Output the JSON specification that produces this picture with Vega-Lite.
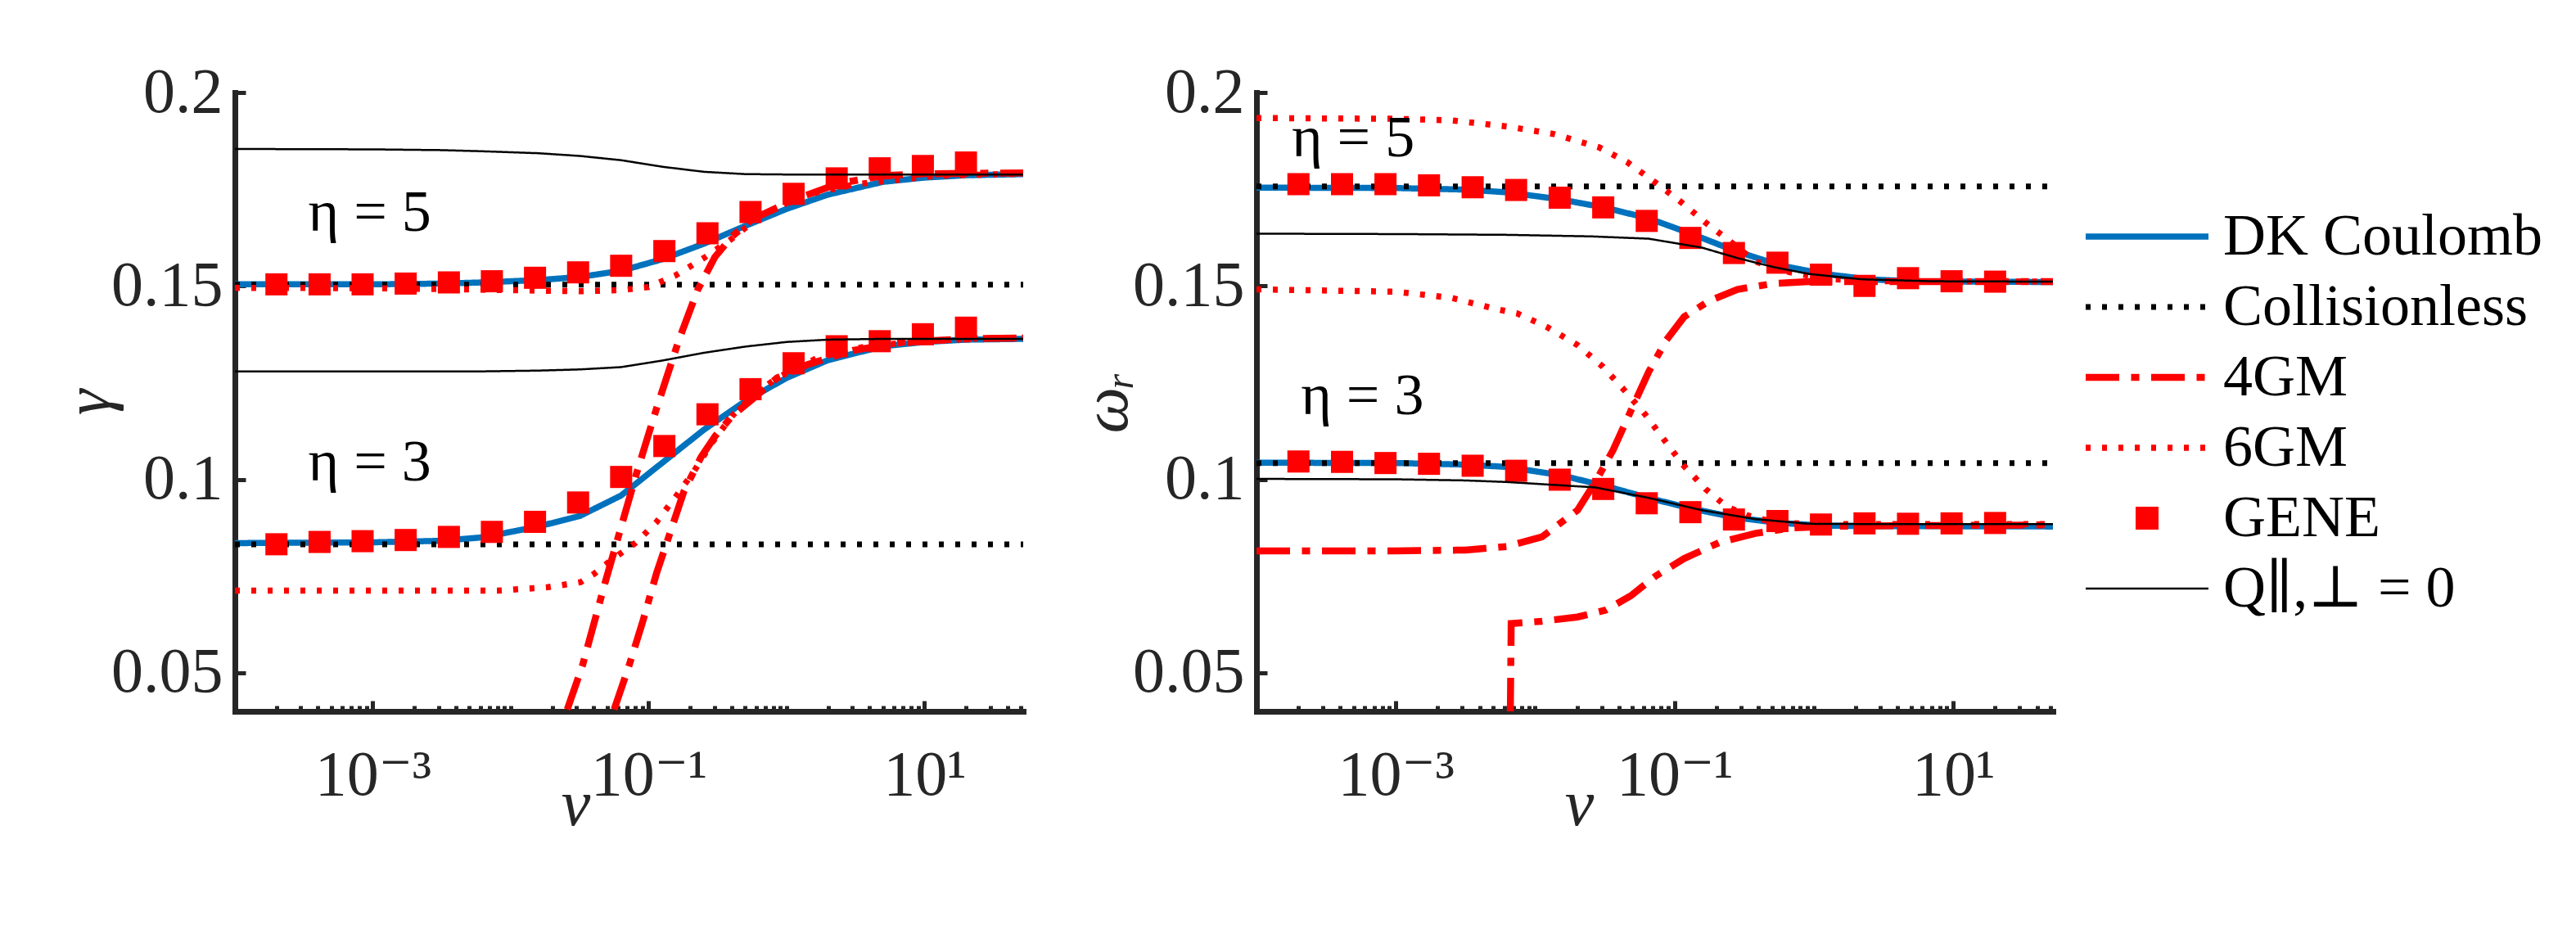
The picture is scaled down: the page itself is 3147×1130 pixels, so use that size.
{
  "$schema": "https://vega.github.io/schema/vega-lite/v6.json",
  "autosize": {"type": "none"},
  "padding": {"left": 287, "top": 113, "right": 2860, "bottom": 1017},
  "background": "white",
  "bounds": "flush",
  "spacing": 285,
  "config": {
    "font": "Liberation Serif, DejaVu Serif, serif",
    "view": {"stroke": null},
    "axis": {
      "domainColor": "#262626", "domainWidth": 7, "domainCap": "square",
      "tickColor": "#262626", "tickWidth": 5,
      "labelColor": "#262626", "labelFont": "Liberation Serif, DejaVu Serif, serif", "labelFontSize": 78,
      "titleFont": "Liberation Serif, DejaVu Serif, serif", "titleFontSize": 80, "titleFontStyle": "italic",
      "titleFontWeight": "normal", "titleColor": "#262626", "grid": false,
      "labelOverlap": false, "labelFlush": false
    }
  },
  "datasets": {
    "curves": [
      {"panel":"L","series":"DK Coulomb","eta":5,"nu":0.0001,"val":0.1504},
      {"panel":"L","series":"DK Coulomb","eta":5,"nu":0.001,"val":0.1504},
      {"panel":"L","series":"DK Coulomb","eta":5,"nu":0.003162,"val":0.1506},
      {"panel":"L","series":"DK Coulomb","eta":5,"nu":0.00631,"val":0.1509},
      {"panel":"L","series":"DK Coulomb","eta":5,"nu":0.01585,"val":0.1515},
      {"panel":"L","series":"DK Coulomb","eta":5,"nu":0.03162,"val":0.1523},
      {"panel":"L","series":"DK Coulomb","eta":5,"nu":0.0631,"val":0.1539},
      {"panel":"L","series":"DK Coulomb","eta":5,"nu":0.1259,"val":0.1569},
      {"panel":"L","series":"DK Coulomb","eta":5,"nu":0.2512,"val":0.1609},
      {"panel":"L","series":"DK Coulomb","eta":5,"nu":0.5012,"val":0.1655},
      {"panel":"L","series":"DK Coulomb","eta":5,"nu":1,"val":0.1699},
      {"panel":"L","series":"DK Coulomb","eta":5,"nu":1.995,"val":0.1736},
      {"panel":"L","series":"DK Coulomb","eta":5,"nu":5.012,"val":0.1769},
      {"panel":"L","series":"DK Coulomb","eta":5,"nu":10,"val":0.178},
      {"panel":"L","series":"DK Coulomb","eta":5,"nu":19.95,"val":0.1786},
      {"panel":"L","series":"DK Coulomb","eta":5,"nu":52,"val":0.1789},
      {"panel":"L","series":"DK Coulomb","eta":3,"nu":0.0001,"val":0.0835},
      {"panel":"L","series":"DK Coulomb","eta":3,"nu":0.001,"val":0.0837},
      {"panel":"L","series":"DK Coulomb","eta":3,"nu":0.003162,"val":0.0841},
      {"panel":"L","series":"DK Coulomb","eta":3,"nu":0.00631,"val":0.085},
      {"panel":"L","series":"DK Coulomb","eta":3,"nu":0.01585,"val":0.0878},
      {"panel":"L","series":"DK Coulomb","eta":3,"nu":0.03162,"val":0.0905},
      {"panel":"L","series":"DK Coulomb","eta":3,"nu":0.0631,"val":0.0958},
      {"panel":"L","series":"DK Coulomb","eta":3,"nu":0.1259,"val":0.1043},
      {"panel":"L","series":"DK Coulomb","eta":3,"nu":0.2512,"val":0.1128},
      {"panel":"L","series":"DK Coulomb","eta":3,"nu":0.5012,"val":0.1202},
      {"panel":"L","series":"DK Coulomb","eta":3,"nu":1,"val":0.1262},
      {"panel":"L","series":"DK Coulomb","eta":3,"nu":1.995,"val":0.1308},
      {"panel":"L","series":"DK Coulomb","eta":3,"nu":5.012,"val":0.1344},
      {"panel":"L","series":"DK Coulomb","eta":3,"nu":10,"val":0.1355},
      {"panel":"L","series":"DK Coulomb","eta":3,"nu":19.95,"val":0.1361},
      {"panel":"L","series":"DK Coulomb","eta":3,"nu":52,"val":0.1363},
      {"panel":"L","series":"Collisionless","eta":5,"nu":0.0001,"val":0.1503},
      {"panel":"L","series":"Collisionless","eta":5,"nu":52,"val":0.1503},
      {"panel":"L","series":"Collisionless","eta":3,"nu":0.0001,"val":0.0832},
      {"panel":"L","series":"Collisionless","eta":3,"nu":52,"val":0.0832},
      {"panel":"L","series":"4GM","eta":5,"nu":0.0257,"val":0.0405},
      {"panel":"L","series":"4GM","eta":5,"nu":0.03304,"val":0.0517},
      {"panel":"L","series":"4GM","eta":5,"nu":0.04808,"val":0.073},
      {"panel":"L","series":"4GM","eta":5,"nu":0.08072,"val":0.1009},
      {"panel":"L","series":"4GM","eta":5,"nu":0.1138,"val":0.1182},
      {"panel":"L","series":"4GM","eta":5,"nu":0.1656,"val":0.136},
      {"panel":"L","series":"4GM","eta":5,"nu":0.227,"val":0.149},
      {"panel":"L","series":"4GM","eta":5,"nu":0.3027,"val":0.1575},
      {"panel":"L","series":"4GM","eta":5,"nu":0.4036,"val":0.1628},
      {"panel":"L","series":"4GM","eta":5,"nu":0.5623,"val":0.1672},
      {"panel":"L","series":"4GM","eta":5,"nu":1.175,"val":0.1725},
      {"panel":"L","series":"4GM","eta":5,"nu":2.399,"val":0.1765},
      {"panel":"L","series":"4GM","eta":5,"nu":5.012,"val":0.1785},
      {"panel":"L","series":"4GM","eta":5,"nu":10,"val":0.179},
      {"panel":"L","series":"4GM","eta":5,"nu":52,"val":0.1792},
      {"panel":"L","series":"4GM","eta":3,"nu":0.05623,"val":0.0405},
      {"panel":"L","series":"4GM","eta":3,"nu":0.07194,"val":0.0517},
      {"panel":"L","series":"4GM","eta":3,"nu":0.0906,"val":0.0632},
      {"panel":"L","series":"4GM","eta":3,"nu":0.1138,"val":0.0756},
      {"panel":"L","series":"4GM","eta":3,"nu":0.1435,"val":0.0863},
      {"panel":"L","series":"4GM","eta":3,"nu":0.1803,"val":0.0969},
      {"panel":"L","series":"4GM","eta":3,"nu":0.2404,"val":0.1058},
      {"panel":"L","series":"4GM","eta":3,"nu":0.3027,"val":0.1111},
      {"panel":"L","series":"4GM","eta":3,"nu":0.4036,"val":0.1164},
      {"panel":"L","series":"4GM","eta":3,"nu":0.5702,"val":0.1208},
      {"panel":"L","series":"4GM","eta":3,"nu":0.8531,"val":0.1262},
      {"panel":"L","series":"4GM","eta":3,"nu":1.429,"val":0.1297},
      {"panel":"L","series":"4GM","eta":3,"nu":3.02,"val":0.1333},
      {"panel":"L","series":"4GM","eta":3,"nu":7.161,"val":0.1355},
      {"panel":"L","series":"4GM","eta":3,"nu":22.54,"val":0.1364},
      {"panel":"L","series":"4GM","eta":3,"nu":52,"val":0.1365},
      {"panel":"L","series":"6GM","eta":5,"nu":0.0001,"val":0.1495},
      {"panel":"L","series":"6GM","eta":5,"nu":0.001,"val":0.1494},
      {"panel":"L","series":"6GM","eta":5,"nu":0.003162,"val":0.1492},
      {"panel":"L","series":"6GM","eta":5,"nu":0.01,"val":0.1489},
      {"panel":"L","series":"6GM","eta":5,"nu":0.03162,"val":0.1486},
      {"panel":"L","series":"6GM","eta":5,"nu":0.0631,"val":0.1489},
      {"panel":"L","series":"6GM","eta":5,"nu":0.1,"val":0.1497},
      {"panel":"L","series":"6GM","eta":5,"nu":0.1585,"val":0.1528},
      {"panel":"L","series":"6GM","eta":5,"nu":0.2512,"val":0.1572},
      {"panel":"L","series":"6GM","eta":5,"nu":0.3981,"val":0.1621},
      {"panel":"L","series":"6GM","eta":5,"nu":0.631,"val":0.1678},
      {"panel":"L","series":"6GM","eta":5,"nu":1.259,"val":0.1732},
      {"panel":"L","series":"6GM","eta":5,"nu":3.162,"val":0.1763},
      {"panel":"L","series":"6GM","eta":5,"nu":12.59,"val":0.1785},
      {"panel":"L","series":"6GM","eta":5,"nu":52,"val":0.179},
      {"panel":"L","series":"6GM","eta":3,"nu":0.0001,"val":0.0712},
      {"panel":"L","series":"6GM","eta":3,"nu":0.003162,"val":0.0712},
      {"panel":"L","series":"6GM","eta":3,"nu":0.00807,"val":0.0712},
      {"panel":"L","series":"6GM","eta":3,"nu":0.01862,"val":0.0721},
      {"panel":"L","series":"6GM","eta":3,"nu":0.03214,"val":0.0734},
      {"panel":"L","series":"6GM","eta":3,"nu":0.04046,"val":0.0756},
      {"panel":"L","series":"6GM","eta":3,"nu":0.05395,"val":0.0792},
      {"panel":"L","series":"6GM","eta":3,"nu":0.08072,"val":0.0836},
      {"panel":"L","series":"6GM","eta":3,"nu":0.1138,"val":0.0889},
      {"panel":"L","series":"6GM","eta":3,"nu":0.161,"val":0.096},
      {"panel":"L","series":"6GM","eta":3,"nu":0.2143,"val":0.1022},
      {"panel":"L","series":"6GM","eta":3,"nu":0.2858,"val":0.1093},
      {"panel":"L","series":"6GM","eta":3,"nu":0.4036,"val":0.1164},
      {"panel":"L","series":"6GM","eta":3,"nu":0.5702,"val":0.1217},
      {"panel":"L","series":"6GM","eta":3,"nu":0.8531,"val":0.1262},
      {"panel":"L","series":"6GM","eta":3,"nu":1.698,"val":0.1315},
      {"panel":"L","series":"6GM","eta":3,"nu":4.027,"val":0.1346},
      {"panel":"L","series":"6GM","eta":3,"nu":22.54,"val":0.1364},
      {"panel":"L","series":"6GM","eta":3,"nu":52,"val":0.1366},
      {"panel":"L","series":"Q∥,⊥ = 0","eta":5,"nu":0.0001,"val":0.1854},
      {"panel":"L","series":"Q∥,⊥ = 0","eta":5,"nu":0.001,"val":0.1853},
      {"panel":"L","series":"Q∥,⊥ = 0","eta":5,"nu":0.003162,"val":0.1851},
      {"panel":"L","series":"Q∥,⊥ = 0","eta":5,"nu":0.00631,"val":0.1848},
      {"panel":"L","series":"Q∥,⊥ = 0","eta":5,"nu":0.01585,"val":0.1843},
      {"panel":"L","series":"Q∥,⊥ = 0","eta":5,"nu":0.03162,"val":0.1836},
      {"panel":"L","series":"Q∥,⊥ = 0","eta":5,"nu":0.0631,"val":0.1825},
      {"panel":"L","series":"Q∥,⊥ = 0","eta":5,"nu":0.1259,"val":0.1808},
      {"panel":"L","series":"Q∥,⊥ = 0","eta":5,"nu":0.2512,"val":0.1795},
      {"panel":"L","series":"Q∥,⊥ = 0","eta":5,"nu":0.5012,"val":0.1789},
      {"panel":"L","series":"Q∥,⊥ = 0","eta":5,"nu":1,"val":0.1788},
      {"panel":"L","series":"Q∥,⊥ = 0","eta":5,"nu":52,"val":0.1788},
      {"panel":"L","series":"Q∥,⊥ = 0","eta":3,"nu":0.0001,"val":0.1279},
      {"panel":"L","series":"Q∥,⊥ = 0","eta":3,"nu":0.00631,"val":0.1279},
      {"panel":"L","series":"Q∥,⊥ = 0","eta":3,"nu":0.01585,"val":0.1281},
      {"panel":"L","series":"Q∥,⊥ = 0","eta":3,"nu":0.03162,"val":0.1284},
      {"panel":"L","series":"Q∥,⊥ = 0","eta":3,"nu":0.0631,"val":0.129},
      {"panel":"L","series":"Q∥,⊥ = 0","eta":3,"nu":0.1259,"val":0.1307},
      {"panel":"L","series":"Q∥,⊥ = 0","eta":3,"nu":0.2512,"val":0.1327},
      {"panel":"L","series":"Q∥,⊥ = 0","eta":3,"nu":0.5012,"val":0.1343},
      {"panel":"L","series":"Q∥,⊥ = 0","eta":3,"nu":1,"val":0.1355},
      {"panel":"L","series":"Q∥,⊥ = 0","eta":3,"nu":1.995,"val":0.1361},
      {"panel":"L","series":"Q∥,⊥ = 0","eta":3,"nu":5.012,"val":0.1363},
      {"panel":"L","series":"Q∥,⊥ = 0","eta":3,"nu":52,"val":0.1363},

      {"panel":"R","series":"DK Coulomb","eta":5,"nu":0.0001,"val":0.1754},
      {"panel":"R","series":"DK Coulomb","eta":5,"nu":0.001,"val":0.1753},
      {"panel":"R","series":"DK Coulomb","eta":5,"nu":0.003162,"val":0.1749},
      {"panel":"R","series":"DK Coulomb","eta":5,"nu":0.006223,"val":0.1742},
      {"panel":"R","series":"DK Coulomb","eta":5,"nu":0.015,"val":0.1724},
      {"panel":"R","series":"DK Coulomb","eta":5,"nu":0.03097,"val":0.1703},
      {"panel":"R","series":"DK Coulomb","eta":5,"nu":0.06457,"val":0.1675},
      {"panel":"R","series":"DK Coulomb","eta":5,"nu":0.1337,"val":0.1634},
      {"panel":"R","series":"DK Coulomb","eta":5,"nu":0.2748,"val":0.159},
      {"panel":"R","series":"DK Coulomb","eta":5,"nu":0.5728,"val":0.1553},
      {"panel":"R","series":"DK Coulomb","eta":5,"nu":1.18,"val":0.1531},
      {"panel":"R","series":"DK Coulomb","eta":5,"nu":2.46,"val":0.1517},
      {"panel":"R","series":"DK Coulomb","eta":5,"nu":5.093,"val":0.1512},
      {"panel":"R","series":"DK Coulomb","eta":5,"nu":52,"val":0.151},
      {"panel":"R","series":"DK Coulomb","eta":3,"nu":0.0001,"val":0.1043},
      {"panel":"R","series":"DK Coulomb","eta":3,"nu":0.001,"val":0.1042},
      {"panel":"R","series":"DK Coulomb","eta":3,"nu":0.003162,"val":0.1038},
      {"panel":"R","series":"DK Coulomb","eta":3,"nu":0.006223,"val":0.1032},
      {"panel":"R","series":"DK Coulomb","eta":3,"nu":0.015,"val":0.1011},
      {"panel":"R","series":"DK Coulomb","eta":3,"nu":0.03097,"val":0.0984},
      {"panel":"R","series":"DK Coulomb","eta":3,"nu":0.06457,"val":0.0952},
      {"panel":"R","series":"DK Coulomb","eta":3,"nu":0.1337,"val":0.0924},
      {"panel":"R","series":"DK Coulomb","eta":3,"nu":0.2748,"val":0.0901},
      {"panel":"R","series":"DK Coulomb","eta":3,"nu":0.5728,"val":0.0887},
      {"panel":"R","series":"DK Coulomb","eta":3,"nu":1.18,"val":0.088},
      {"panel":"R","series":"DK Coulomb","eta":3,"nu":2.46,"val":0.0879},
      {"panel":"R","series":"DK Coulomb","eta":3,"nu":52,"val":0.0878},
      {"panel":"R","series":"Collisionless","eta":5,"nu":0.0001,"val":0.1757},
      {"panel":"R","series":"Collisionless","eta":5,"nu":52,"val":0.1757},
      {"panel":"R","series":"Collisionless","eta":3,"nu":0.0001,"val":0.1042},
      {"panel":"R","series":"Collisionless","eta":3,"nu":52,"val":0.1042},
      {"panel":"R","series":"4GM","eta":5,"nu":0.0001,"val":0.0815},
      {"panel":"R","series":"4GM","eta":5,"nu":0.001,"val":0.0815},
      {"panel":"R","series":"4GM","eta":5,"nu":0.003162,"val":0.0817},
      {"panel":"R","series":"4GM","eta":5,"nu":0.006223,"val":0.0826},
      {"panel":"R","series":"4GM","eta":5,"nu":0.01119,"val":0.0851},
      {"panel":"R","series":"4GM","eta":5,"nu":0.02014,"val":0.092},
      {"panel":"R","series":"4GM","eta":5,"nu":0.02704,"val":0.0993},
      {"panel":"R","series":"4GM","eta":5,"nu":0.03631,"val":0.1076},
      {"panel":"R","series":"4GM","eta":5,"nu":0.04864,"val":0.1177},
      {"panel":"R","series":"4GM","eta":5,"nu":0.06531,"val":0.1278},
      {"panel":"R","series":"4GM","eta":5,"nu":0.0875,"val":0.136},
      {"panel":"R","series":"4GM","eta":5,"nu":0.1172,"val":0.142},
      {"panel":"R","series":"4GM","eta":5,"nu":0.177,"val":0.1461},
      {"panel":"R","series":"4GM","eta":5,"nu":0.2831,"val":0.1491},
      {"panel":"R","series":"4GM","eta":5,"nu":0.5093,"val":0.1506},
      {"panel":"R","series":"4GM","eta":5,"nu":0.9162,"val":0.1511},
      {"panel":"R","series":"4GM","eta":5,"nu":52,"val":0.1511},
      {"panel":"R","series":"4GM","eta":3,"nu":0.006637,"val":0.04},
      {"panel":"R","series":"4GM","eta":3,"nu":0.00673,"val":0.0627},
      {"panel":"R","series":"4GM","eta":3,"nu":0.01119,"val":0.0633},
      {"panel":"R","series":"4GM","eta":3,"nu":0.02014,"val":0.0644},
      {"panel":"R","series":"4GM","eta":3,"nu":0.03221,"val":0.0662},
      {"panel":"R","series":"4GM","eta":3,"nu":0.04864,"val":0.0699},
      {"panel":"R","series":"4GM","eta":3,"nu":0.07328,"val":0.075},
      {"panel":"R","series":"4GM","eta":3,"nu":0.1172,"val":0.0795},
      {"panel":"R","series":"4GM","eta":3,"nu":0.2113,"val":0.0837},
      {"panel":"R","series":"4GM","eta":3,"nu":0.3802,"val":0.086},
      {"panel":"R","series":"4GM","eta":3,"nu":0.6839,"val":0.0874},
      {"panel":"R","series":"4GM","eta":3,"nu":1.585,"val":0.0879},
      {"panel":"R","series":"4GM","eta":3,"nu":52,"val":0.0882},
      {"panel":"R","series":"6GM","eta":5,"nu":0.0001,"val":0.1934},
      {"panel":"R","series":"6GM","eta":5,"nu":0.001,"val":0.1932},
      {"panel":"R","series":"6GM","eta":5,"nu":0.002512,"val":0.1928},
      {"panel":"R","series":"6GM","eta":5,"nu":0.00631,"val":0.1912},
      {"panel":"R","series":"6GM","eta":5,"nu":0.01349,"val":0.1893},
      {"panel":"R","series":"6GM","eta":5,"nu":0.02884,"val":0.1858},
      {"panel":"R","series":"6GM","eta":5,"nu":0.04571,"val":0.182},
      {"panel":"R","series":"6GM","eta":5,"nu":0.07244,"val":0.1768},
      {"panel":"R","series":"6GM","eta":5,"nu":0.1096,"val":0.1719},
      {"panel":"R","series":"6GM","eta":5,"nu":0.1667,"val":0.1664},
      {"panel":"R","series":"6GM","eta":5,"nu":0.2512,"val":0.1615},
      {"panel":"R","series":"6GM","eta":5,"nu":0.3802,"val":0.1563},
      {"panel":"R","series":"6GM","eta":5,"nu":0.6761,"val":0.1535},
      {"panel":"R","series":"6GM","eta":5,"nu":1.259,"val":0.1518},
      {"panel":"R","series":"6GM","eta":5,"nu":3.162,"val":0.1512},
      {"panel":"R","series":"6GM","eta":5,"nu":52,"val":0.1511},
      {"panel":"R","series":"6GM","eta":3,"nu":0.0001,"val":0.1491},
      {"panel":"R","series":"6GM","eta":3,"nu":0.001,"val":0.1485},
      {"panel":"R","series":"6GM","eta":3,"nu":0.002523,"val":0.1469},
      {"panel":"R","series":"6GM","eta":3,"nu":0.005105,"val":0.1441},
      {"panel":"R","series":"6GM","eta":3,"nu":0.00743,"val":0.1429},
      {"panel":"R","series":"6GM","eta":3,"nu":0.01225,"val":0.1393},
      {"panel":"R","series":"6GM","eta":3,"nu":0.02014,"val":0.1347},
      {"panel":"R","series":"6GM","eta":3,"nu":0.0304,"val":0.1292},
      {"panel":"R","series":"6GM","eta":3,"nu":0.04325,"val":0.1232},
      {"panel":"R","series":"6GM","eta":3,"nu":0.06152,"val":0.1168},
      {"panel":"R","series":"6GM","eta":3,"nu":0.0875,"val":0.1094},
      {"panel":"R","series":"6GM","eta":3,"nu":0.1172,"val":0.1034},
      {"panel":"R","series":"6GM","eta":3,"nu":0.1667,"val":0.0975},
      {"panel":"R","series":"6GM","eta":3,"nu":0.2377,"val":0.0929},
      {"panel":"R","series":"6GM","eta":3,"nu":0.3381,"val":0.0906},
      {"panel":"R","series":"6GM","eta":3,"nu":0.5408,"val":0.0887},
      {"panel":"R","series":"6GM","eta":3,"nu":1.585,"val":0.0884},
      {"panel":"R","series":"6GM","eta":3,"nu":52,"val":0.0884},
      {"panel":"R","series":"Q∥,⊥ = 0","eta":5,"nu":0.0001,"val":0.1635},
      {"panel":"R","series":"Q∥,⊥ = 0","eta":5,"nu":0.001,"val":0.1634},
      {"panel":"R","series":"Q∥,⊥ = 0","eta":5,"nu":0.00631,"val":0.1632},
      {"panel":"R","series":"Q∥,⊥ = 0","eta":5,"nu":0.02512,"val":0.1628},
      {"panel":"R","series":"Q∥,⊥ = 0","eta":5,"nu":0.06531,"val":0.1622},
      {"panel":"R","series":"Q∥,⊥ = 0","eta":5,"nu":0.1574,"val":0.1599},
      {"panel":"R","series":"Q∥,⊥ = 0","eta":5,"nu":0.2831,"val":0.1572},
      {"panel":"R","series":"Q∥,⊥ = 0","eta":5,"nu":0.5093,"val":0.1549},
      {"panel":"R","series":"Q∥,⊥ = 0","eta":5,"nu":0.9162,"val":0.1531},
      {"panel":"R","series":"Q∥,⊥ = 0","eta":5,"nu":2.213,"val":0.1517},
      {"panel":"R","series":"Q∥,⊥ = 0","eta":5,"nu":7.161,"val":0.1512},
      {"panel":"R","series":"Q∥,⊥ = 0","eta":5,"nu":52,"val":0.1511},
      {"panel":"R","series":"Q∥,⊥ = 0","eta":3,"nu":0.0001,"val":0.1001},
      {"panel":"R","series":"Q∥,⊥ = 0","eta":3,"nu":0.001,"val":0.1},
      {"panel":"R","series":"Q∥,⊥ = 0","eta":3,"nu":0.003162,"val":0.0997},
      {"panel":"R","series":"Q∥,⊥ = 0","eta":3,"nu":0.006223,"val":0.0993},
      {"panel":"R","series":"Q∥,⊥ = 0","eta":3,"nu":0.02704,"val":0.0979},
      {"panel":"R","series":"Q∥,⊥ = 0","eta":3,"nu":0.06531,"val":0.0952},
      {"panel":"R","series":"Q∥,⊥ = 0","eta":3,"nu":0.1574,"val":0.092},
      {"panel":"R","series":"Q∥,⊥ = 0","eta":3,"nu":0.3802,"val":0.0897},
      {"panel":"R","series":"Q∥,⊥ = 0","eta":3,"nu":0.9162,"val":0.0885},
      {"panel":"R","series":"Q∥,⊥ = 0","eta":3,"nu":3.162,"val":0.0884},
      {"panel":"R","series":"Q∥,⊥ = 0","eta":3,"nu":52,"val":0.0884}
    ],
    "gene": [
      {"panel":"L","eta":5,"nu":0.0002,"val":0.1504},
      {"panel":"L","eta":5,"nu":0.000411,"val":0.1504},
      {"panel":"L","eta":5,"nu":0.000843,"val":0.1504},
      {"panel":"L","eta":5,"nu":0.00173,"val":0.1506},
      {"panel":"L","eta":5,"nu":0.00356,"val":0.1509},
      {"panel":"L","eta":5,"nu":0.0073,"val":0.1512},
      {"panel":"L","eta":5,"nu":0.015,"val":0.1521},
      {"panel":"L","eta":5,"nu":0.0308,"val":0.1535},
      {"panel":"L","eta":5,"nu":0.0632,"val":0.1552},
      {"panel":"L","eta":5,"nu":0.13,"val":0.159},
      {"panel":"L","eta":5,"nu":0.267,"val":0.1636},
      {"panel":"L","eta":5,"nu":0.548,"val":0.1691},
      {"panel":"L","eta":5,"nu":1.125,"val":0.1738},
      {"panel":"L","eta":5,"nu":2.31,"val":0.1778},
      {"panel":"L","eta":5,"nu":4.74,"val":0.1804},
      {"panel":"L","eta":5,"nu":9.74,"val":0.181},
      {"panel":"L","eta":5,"nu":20,"val":0.1819},
      {"panel":"L","eta":3,"nu":0.0002,"val":0.0832},
      {"panel":"L","eta":3,"nu":0.000411,"val":0.0838},
      {"panel":"L","eta":3,"nu":0.000843,"val":0.084},
      {"panel":"L","eta":3,"nu":0.00173,"val":0.0843},
      {"panel":"L","eta":3,"nu":0.00356,"val":0.0851},
      {"panel":"L","eta":3,"nu":0.0073,"val":0.0864},
      {"panel":"L","eta":3,"nu":0.015,"val":0.089},
      {"panel":"L","eta":3,"nu":0.0308,"val":0.094},
      {"panel":"L","eta":3,"nu":0.0632,"val":0.1006},
      {"panel":"L","eta":3,"nu":0.13,"val":0.1086},
      {"panel":"L","eta":3,"nu":0.267,"val":0.1168},
      {"panel":"L","eta":3,"nu":0.548,"val":0.1233},
      {"panel":"L","eta":3,"nu":1.125,"val":0.13},
      {"panel":"L","eta":3,"nu":2.31,"val":0.1344},
      {"panel":"L","eta":3,"nu":4.74,"val":0.1357},
      {"panel":"L","eta":3,"nu":9.74,"val":0.1375},
      {"panel":"L","eta":3,"nu":20,"val":0.1392},
      {"panel":"R","eta":5,"nu":0.0002,"val":0.1763},
      {"panel":"R","eta":5,"nu":0.000411,"val":0.1763},
      {"panel":"R","eta":5,"nu":0.000843,"val":0.1763},
      {"panel":"R","eta":5,"nu":0.00173,"val":0.176},
      {"panel":"R","eta":5,"nu":0.00356,"val":0.1755},
      {"panel":"R","eta":5,"nu":0.0073,"val":0.1748},
      {"panel":"R","eta":5,"nu":0.015,"val":0.1728},
      {"panel":"R","eta":5,"nu":0.0308,"val":0.1703},
      {"panel":"R","eta":5,"nu":0.0632,"val":0.1668},
      {"panel":"R","eta":5,"nu":0.13,"val":0.1624},
      {"panel":"R","eta":5,"nu":0.267,"val":0.1585},
      {"panel":"R","eta":5,"nu":0.548,"val":0.156},
      {"panel":"R","eta":5,"nu":1.125,"val":0.1529},
      {"panel":"R","eta":5,"nu":2.31,"val":0.15},
      {"panel":"R","eta":5,"nu":4.74,"val":0.152},
      {"panel":"R","eta":5,"nu":9.74,"val":0.1512},
      {"panel":"R","eta":5,"nu":20,"val":0.1511},
      {"panel":"R","eta":3,"nu":0.0002,"val":0.1046},
      {"panel":"R","eta":3,"nu":0.000411,"val":0.1045},
      {"panel":"R","eta":3,"nu":0.000843,"val":0.1042},
      {"panel":"R","eta":3,"nu":0.00173,"val":0.104},
      {"panel":"R","eta":3,"nu":0.00356,"val":0.1035},
      {"panel":"R","eta":3,"nu":0.0073,"val":0.1022},
      {"panel":"R","eta":3,"nu":0.015,"val":0.0999},
      {"panel":"R","eta":3,"nu":0.0308,"val":0.0975},
      {"panel":"R","eta":3,"nu":0.0632,"val":0.0938},
      {"panel":"R","eta":3,"nu":0.13,"val":0.0915},
      {"panel":"R","eta":3,"nu":0.267,"val":0.0896},
      {"panel":"R","eta":3,"nu":0.548,"val":0.0892},
      {"panel":"R","eta":3,"nu":1.125,"val":0.0883},
      {"panel":"R","eta":3,"nu":2.31,"val":0.0886},
      {"panel":"R","eta":3,"nu":4.74,"val":0.0885},
      {"panel":"R","eta":3,"nu":9.74,"val":0.0886},
      {"panel":"R","eta":3,"nu":20,"val":0.0887}
    ],
    "notes": [
      {"panel":"L","nu":0.00095,"val":0.1688,"label":"η = 5"},
      {"panel":"L","nu":0.00095,"val":0.1044,"label":"η = 3"},
      {"panel":"R","nu":0.000494,"val":0.1882,"label":"η = 5"},
      {"panel":"R","nu":0.000575,"val":0.1214,"label":"η = 3"}
    ]
  },
  "hconcat": [
    {
      "width": 963,
      "height": 756,
      "encoding": {
        "x": {"field":"nu","type":"quantitative",
          "scale":{"type":"log","domain":[0.0001,52],"nice":false},
          "axis":{"title":"ν","titleAngle":0,"titleX":416,"titleY":138,"titleBaseline":"alphabetic","titleAlign":"center",
            "values":[0.0002,0.0003,0.0004,0.0005,0.0006,0.0007,0.0008,0.0009,0.001,0.002,0.003,0.004,0.005,0.006,0.007,0.008,0.009,0.01,0.02,0.03,0.04,0.05,0.06,0.07,0.08,0.09,0.1,0.2,0.3,0.4,0.5,0.6,0.7,0.8,0.9,1,2,3,4,5,6,7,8,9,10,20,30,40,50],
            "labelExpr":"datum.value == 0.001 ? '10⁻³' : datum.value == 0.1 ? '10⁻¹' : datum.value == 10 ? '10¹' : ''",
            "tickSize":{"condition":{"test":"datum.value == 0.001 || datum.value == 0.1 || datum.value == 10","value":-13},"value":-7},
            "labelPadding":52}},
        "y": {"field":"val","type":"quantitative",
          "scale":{"domain":[0.04,0.2],"nice":false,"zero":false},
          "axis":{"title":"γ","titleAngle":-90,"titleX":-178,"titleY":378,"titleBaseline":"middle","titleAlign":"center",
            "values":[0.05,0.1,0.15,0.2],"format":".2~f","tickSize":-13,"labelPadding":28}}
      },
      "layer": [
        {
          "data":{"name":"curves"},
          "transform":[{"filter":"datum.panel == 'L' && datum.series != 'Q∥,⊥ = 0'"}],
          "mark":{"type":"line","clip":true},
          "encoding":{
            "color":{"field":"series","type":"nominal",
              "scale":{"domain":["DK Coulomb","Collisionless","4GM","6GM","GENE","Q∥,⊥ = 0"],"range":["#0072BD","#000000","#FF0000","#FF0000","#FF0000","#000000"]},
              "legend":{"orient":"none","legendX":2247,"legendY":133,"title":null,"symbolType":"stroke","symbolSize":22500,"clipHeight":86,"rowPadding":0,"labelOffset":4,"labelFont":"Liberation Serif, DejaVu Serif, serif","labelFontSize":72,"labelColor":"#000000","labelLimit":0,"padding":0}},
            "strokeDash":{"field":"series","type":"nominal",
              "scale":{"domain":["DK Coulomb","Collisionless","4GM","6GM","GENE","Q∥,⊥ = 0"],"range":[[1,0],[6,14],[41,14.5,10,14.5],[6,14],[0,61,28,200],[1,0]]}},
            "strokeWidth":{"field":"series","type":"nominal",
              "scale":{"type":"ordinal","domain":["DK Coulomb","Collisionless","4GM","6GM","GENE","Q∥,⊥ = 0"],"range":[7.5,7,8.5,7.5,28,2.5]}},
            "detail":{"field":"eta"}
          }
        },
        {
          "data":{"name":"gene"},
          "transform":[{"filter":"datum.panel == 'L'"}],
          "mark":{"type":"point","shape":"square","filled":true,"size":730,"color":"#FF0000","opacity":1}
        },
        {
          "data":{"name":"curves"},
          "transform":[{"filter":"datum.panel == 'L' && datum.series == 'Q∥,⊥ = 0'"}],
          "mark":{"type":"line","clip":true},
          "encoding":{
            "color":{"field":"series","type":"nominal",
              "scale":{"domain":["DK Coulomb","Collisionless","4GM","6GM","GENE","Q∥,⊥ = 0"],"range":["#0072BD","#000000","#FF0000","#FF0000","#FF0000","#000000"]},
              "legend":{"orient":"none","legendX":2247,"legendY":133,"title":null,"symbolType":"stroke","symbolSize":22500,"clipHeight":86,"rowPadding":0,"labelOffset":4,"labelFont":"Liberation Serif, DejaVu Serif, serif","labelFontSize":72,"labelColor":"#000000","labelLimit":0,"padding":0}},
            "strokeDash":{"field":"series","type":"nominal",
              "scale":{"domain":["DK Coulomb","Collisionless","4GM","6GM","GENE","Q∥,⊥ = 0"],"range":[[1,0],[6,14],[41,14.5,10,14.5],[6,14],[0,61,28,200],[1,0]]}},
            "strokeWidth":{"field":"series","type":"nominal",
              "scale":{"type":"ordinal","domain":["DK Coulomb","Collisionless","4GM","6GM","GENE","Q∥,⊥ = 0"],"range":[7.5,7,8.5,7.5,28,2.5]}},
            "detail":{"field":"eta"}
          }
        },
        {
          "data":{"name":"notes"},
          "transform":[{"filter":"datum.panel == 'L'"}],
          "mark":{"type":"text","font":"Liberation Serif, DejaVu Serif, serif","fontSize":72,"color":"#000000","align":"center","baseline":"middle"},
          "encoding":{"text":{"field":"label"}}
        }
      ]
    },
    {
      "width": 973,
      "height": 756,
      "encoding": {
        "x": {"field":"nu","type":"quantitative",
          "scale":{"type":"log","domain":[0.0001,52],"nice":false},
          "axis":{"title":"ν","titleAngle":0,"titleX":394,"titleY":138,"titleBaseline":"alphabetic","titleAlign":"center",
            "values":[0.0002,0.0003,0.0004,0.0005,0.0006,0.0007,0.0008,0.0009,0.001,0.002,0.003,0.004,0.005,0.006,0.007,0.008,0.009,0.01,0.02,0.03,0.04,0.05,0.06,0.07,0.08,0.09,0.1,0.2,0.3,0.4,0.5,0.6,0.7,0.8,0.9,1,2,3,4,5,6,7,8,9,10,20,30,40,50],
            "labelExpr":"datum.value == 0.001 ? '10⁻³' : datum.value == 0.1 ? '10⁻¹' : datum.value == 10 ? '10¹' : ''",
            "tickSize":{"condition":{"test":"datum.value == 0.001 || datum.value == 0.1 || datum.value == 10","value":-13},"value":-7},
            "labelPadding":52}},
        "y": {"field":"val","type":"quantitative",
          "scale":{"domain":[0.04,0.2],"nice":false,"zero":false},
          "axis":{"title":"ωᵣ","titleAngle":-90,"titleX":-183,"titleY":378,"titleBaseline":"middle","titleAlign":"center",
            "values":[0.05,0.1,0.15,0.2],"format":".2~f","tickSize":-13,"labelPadding":28}}
      },
      "layer": [
        {
          "data":{"name":"curves"},
          "transform":[{"filter":"datum.panel == 'R' && datum.series != 'Q∥,⊥ = 0'"}],
          "mark":{"type":"line","clip":true},
          "encoding":{
            "color":{"field":"series","type":"nominal",
              "scale":{"domain":["DK Coulomb","Collisionless","4GM","6GM","GENE","Q∥,⊥ = 0"],"range":["#0072BD","#000000","#FF0000","#FF0000","#FF0000","#000000"]},
              "legend":{"orient":"none","legendX":2247,"legendY":133,"title":null,"symbolType":"stroke","symbolSize":22500,"clipHeight":86,"rowPadding":0,"labelOffset":4,"labelFont":"Liberation Serif, DejaVu Serif, serif","labelFontSize":72,"labelColor":"#000000","labelLimit":0,"padding":0}},
            "strokeDash":{"field":"series","type":"nominal",
              "scale":{"domain":["DK Coulomb","Collisionless","4GM","6GM","GENE","Q∥,⊥ = 0"],"range":[[1,0],[6,14],[41,14.5,10,14.5],[6,14],[0,61,28,200],[1,0]]}},
            "strokeWidth":{"field":"series","type":"nominal",
              "scale":{"type":"ordinal","domain":["DK Coulomb","Collisionless","4GM","6GM","GENE","Q∥,⊥ = 0"],"range":[7.5,7,8.5,7.5,28,2.5]}},
            "detail":{"field":"eta"}
          }
        },
        {
          "data":{"name":"gene"},
          "transform":[{"filter":"datum.panel == 'R'"}],
          "mark":{"type":"point","shape":"square","filled":true,"size":730,"color":"#FF0000","opacity":1}
        },
        {
          "data":{"name":"curves"},
          "transform":[{"filter":"datum.panel == 'R' && datum.series == 'Q∥,⊥ = 0'"}],
          "mark":{"type":"line","clip":true},
          "encoding":{
            "color":{"field":"series","type":"nominal",
              "scale":{"domain":["DK Coulomb","Collisionless","4GM","6GM","GENE","Q∥,⊥ = 0"],"range":["#0072BD","#000000","#FF0000","#FF0000","#FF0000","#000000"]},
              "legend":{"orient":"none","legendX":2247,"legendY":133,"title":null,"symbolType":"stroke","symbolSize":22500,"clipHeight":86,"rowPadding":0,"labelOffset":4,"labelFont":"Liberation Serif, DejaVu Serif, serif","labelFontSize":72,"labelColor":"#000000","labelLimit":0,"padding":0}},
            "strokeDash":{"field":"series","type":"nominal",
              "scale":{"domain":["DK Coulomb","Collisionless","4GM","6GM","GENE","Q∥,⊥ = 0"],"range":[[1,0],[6,14],[41,14.5,10,14.5],[6,14],[0,61,28,200],[1,0]]}},
            "strokeWidth":{"field":"series","type":"nominal",
              "scale":{"type":"ordinal","domain":["DK Coulomb","Collisionless","4GM","6GM","GENE","Q∥,⊥ = 0"],"range":[7.5,7,8.5,7.5,28,2.5]}},
            "detail":{"field":"eta"}
          }
        },
        {
          "data":{"name":"notes"},
          "transform":[{"filter":"datum.panel == 'R'"}],
          "mark":{"type":"text","font":"Liberation Serif, DejaVu Serif, serif","fontSize":72,"color":"#000000","align":"center","baseline":"middle"},
          "encoding":{"text":{"field":"label"}}
        }
      ]
    }
  ]
}
